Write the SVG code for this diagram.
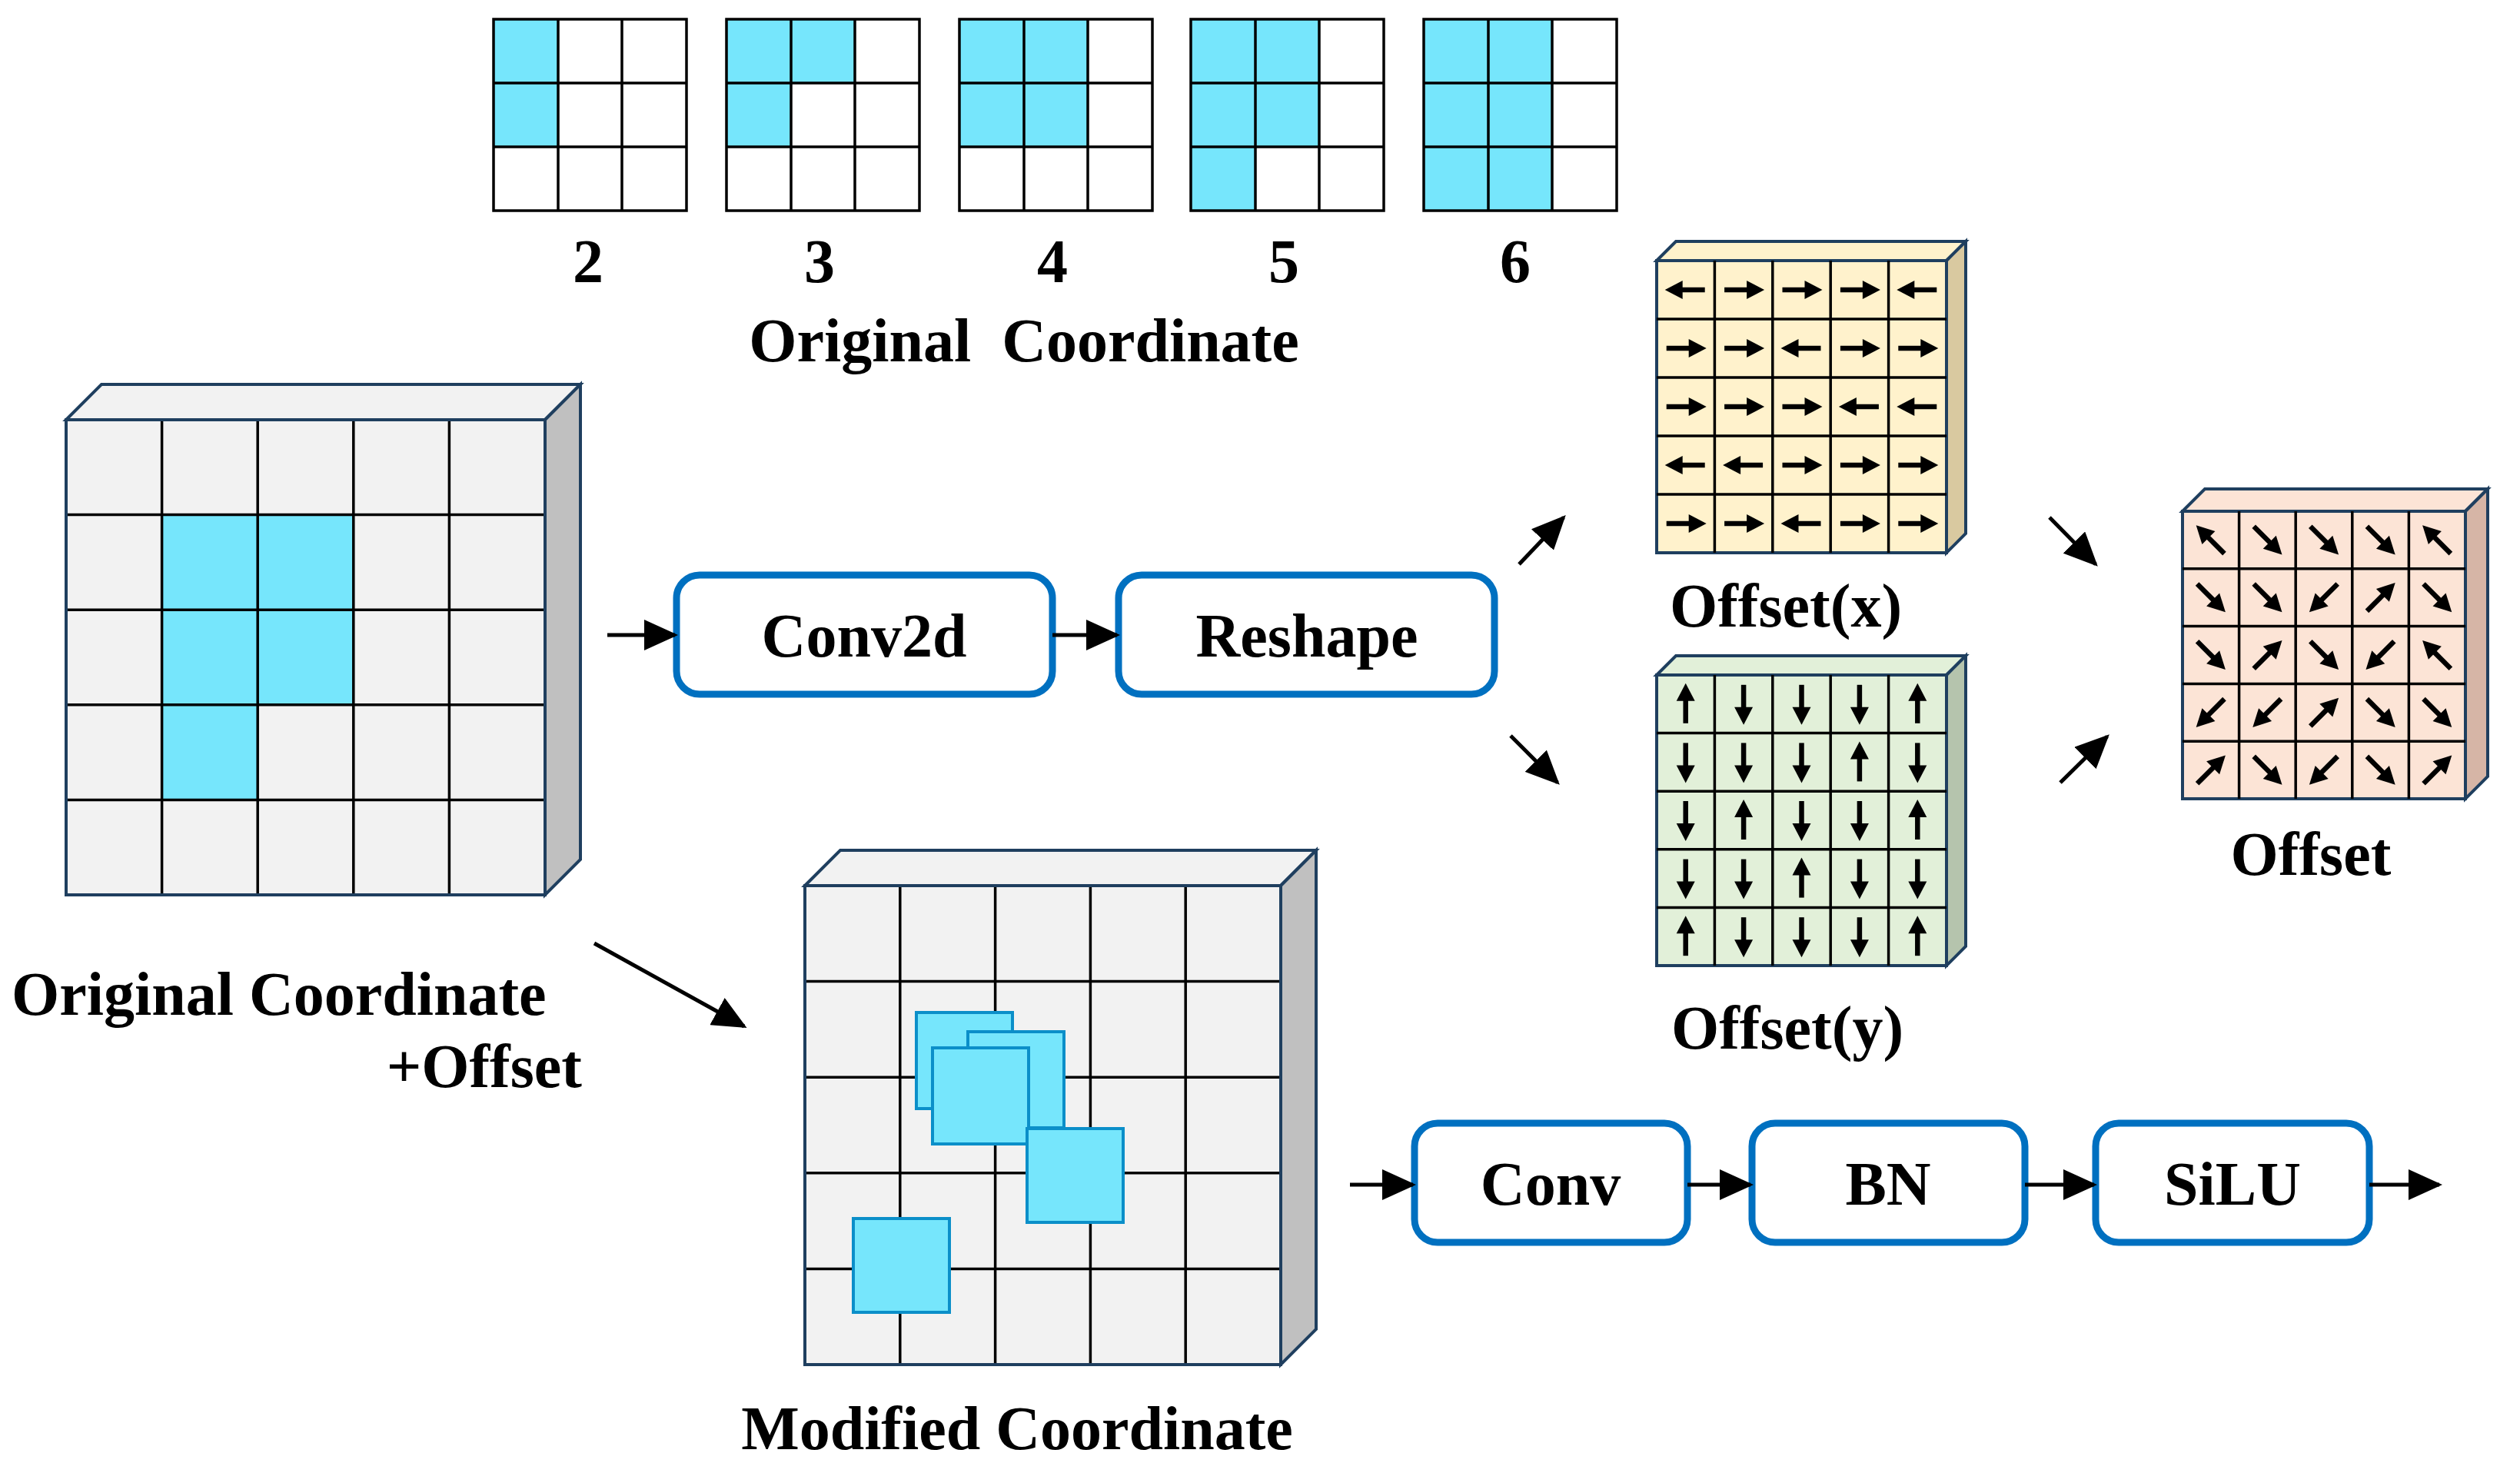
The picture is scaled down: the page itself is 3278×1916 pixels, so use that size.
<svg xmlns="http://www.w3.org/2000/svg" xmlns:xlink="http://www.w3.org/1999/xlink" width="3278" height="1916" viewBox="0 0 3278 1916">
<style>
text{font-family:"Liberation Serif","Times New Roman",serif;font-weight:bold;fill:#000}
.lbl{font-size:80px}
.bx{fill:#fff;stroke:#0070C0;stroke-width:9}
.bt{font-size:80px;text-anchor:middle}
.gl{stroke:#000;stroke-width:3.5}
.sg{fill:none;stroke:#000;stroke-width:3.5}
.bl{fill:#76E6FC}
.edge{stroke:#1F3F5F;stroke-width:4}
.con{stroke:#000;stroke-width:5;fill:none;marker-end:url(#ah)}
.sq{fill:#76E6FC;stroke:#0B8FC9;stroke-width:4}
</style>
<defs>
<marker id="ah" markerUnits="userSpaceOnUse" markerWidth="44" markerHeight="40" refX="40" refY="20" orient="auto"><path d="M0,0 L44,20 L0,40 Z" fill="#000"/></marker>
<g id="ar"><line x1="-25" y1="0" x2="8" y2="0" stroke="#000" stroke-width="6.5"/><path d="M4,-12 L27,0 L4,12 Z" fill="#000"/></g>
</defs>

<g id="small-grids">
<g transform="translate(642,25)">
<rect class="bl" x="0" y="0" width="84" height="166"/>
<rect class="sg" x="0" y="0" width="251" height="249"/>
<path class="gl" d="M84,0V249M167,0V249M0,83H251M0,166H251"/></g>
<g transform="translate(945,25)">
<rect class="bl" x="0" y="0" width="167" height="83"/><rect class="bl" x="0" y="83" width="84" height="83"/>
<rect class="sg" x="0" y="0" width="251" height="249"/>
<path class="gl" d="M84,0V249M167,0V249M0,83H251M0,166H251"/></g>
<g transform="translate(1248,25)">
<rect class="bl" x="0" y="0" width="167" height="166"/>
<rect class="sg" x="0" y="0" width="251" height="249"/>
<path class="gl" d="M84,0V249M167,0V249M0,83H251M0,166H251"/></g>
<g transform="translate(1549,25)">
<rect class="bl" x="0" y="0" width="167" height="166"/><rect class="bl" x="0" y="166" width="84" height="83"/>
<rect class="sg" x="0" y="0" width="251" height="249"/>
<path class="gl" d="M84,0V249M167,0V249M0,83H251M0,166H251"/></g>
<g transform="translate(1852,25)">
<rect class="bl" x="0" y="0" width="167" height="249"/>
<rect class="sg" x="0" y="0" width="251" height="249"/>
<path class="gl" d="M84,0V249M167,0V249M0,83H251M0,166H251"/></g>
<text class="bt" x="765" y="367">2</text><text class="bt" x="1066" y="367">3</text><text class="bt" x="1369" y="367">4</text><text class="bt" x="1670" y="367">5</text><text class="bt" x="1971" y="367">6</text>
<text class="bt" x="1332" y="470" style="white-space:pre">Original  Coordinate</text>
</g>

<g id="original-cube">
<polygon points="86,546 132,500 755,500 709,546" fill="#F2F2F2" class="edge"/>
<polygon points="709,546 755,500 755,1118 709,1164" fill="#C0C0C0" class="edge"/>
<rect x="86" y="546" width="623" height="618" fill="#F2F2F2"/>
<rect class="bl" x="210.6" y="669.6" width="249.2" height="247.2"/><rect class="bl" x="210.6" y="916.8" width="124.6" height="123.6"/>
<path class="gl" d="M210.6,546V1164M335.2,546V1164M459.8,546V1164M584.4,546V1164M86,669.6H709M86,793.2H709M86,916.8H709M86,1040.4H709"/>
<rect x="86" y="546" width="623" height="618" fill="none" class="edge"/>
<text class="lbl" x="15" y="1320">Original Coordinate</text>
<text class="lbl" x="757" y="1414" text-anchor="end">+Offset</text>
</g>

<g id="conv2d"><rect class="bx" x="880" y="748" width="489" height="155" rx="30"/><text class="bt" x="1124" y="854">Conv2d</text></g>
<g id="reshape"><rect class="bx" x="1455" y="748" width="489" height="155" rx="30"/><text class="bt" x="1700" y="854">Reshape</text></g>

<g id="offset-x">
<polygon points="2155,339 2180,314 2557,314 2532,339" fill="#FFF2CC" class="edge"/>
<polygon points="2532,339 2557,314 2557,694 2532,719" fill="#D9C9A0" class="edge"/>
<rect x="2155" y="339" width="377" height="380" fill="#FFF2CC" class="edge"/>
<path class="gl" d="M2230.4,339V719M2305.8,339V719M2381.2,339V719M2456.6,339V719M2155,415H2532M2155,491H2532M2155,567H2532M2155,643H2532"/>
<g>
<use xlink:href="#ar" transform="translate(2192.7,377) rotate(180)"/><use xlink:href="#ar" transform="translate(2268.1,377)"/><use xlink:href="#ar" transform="translate(2343.5,377)"/><use xlink:href="#ar" transform="translate(2418.9,377)"/><use xlink:href="#ar" transform="translate(2494.3,377) rotate(180)"/>
<use xlink:href="#ar" transform="translate(2192.7,453)"/><use xlink:href="#ar" transform="translate(2268.1,453)"/><use xlink:href="#ar" transform="translate(2343.5,453) rotate(180)"/><use xlink:href="#ar" transform="translate(2418.9,453)"/><use xlink:href="#ar" transform="translate(2494.3,453)"/>
<use xlink:href="#ar" transform="translate(2192.7,529)"/><use xlink:href="#ar" transform="translate(2268.1,529)"/><use xlink:href="#ar" transform="translate(2343.5,529)"/><use xlink:href="#ar" transform="translate(2418.9,529) rotate(180)"/><use xlink:href="#ar" transform="translate(2494.3,529) rotate(180)"/>
<use xlink:href="#ar" transform="translate(2192.7,605) rotate(180)"/><use xlink:href="#ar" transform="translate(2268.1,605) rotate(180)"/><use xlink:href="#ar" transform="translate(2343.5,605)"/><use xlink:href="#ar" transform="translate(2418.9,605)"/><use xlink:href="#ar" transform="translate(2494.3,605)"/>
<use xlink:href="#ar" transform="translate(2192.7,681)"/><use xlink:href="#ar" transform="translate(2268.1,681)"/><use xlink:href="#ar" transform="translate(2343.5,681) rotate(180)"/><use xlink:href="#ar" transform="translate(2418.9,681)"/><use xlink:href="#ar" transform="translate(2494.3,681)"/>
</g>
<text class="bt" x="2323" y="815">Offset(x)</text>
</g>

<g id="offset-y">
<polygon points="2155,878 2180,853 2557,853 2532,878" fill="#E2F0D9" class="edge"/>
<polygon points="2532,878 2557,853 2557,1231 2532,1256" fill="#B5C4AD" class="edge"/>
<rect x="2155" y="878" width="377" height="378" fill="#E2F0D9" class="edge"/>
<path class="gl" d="M2230.4,878V1256M2305.8,878V1256M2381.2,878V1256M2456.6,878V1256M2155,953.6H2532M2155,1029.2H2532M2155,1104.8H2532M2155,1180.4H2532"/>
<g>
<use xlink:href="#ar" transform="translate(2192.7,915.8) rotate(-90)"/><use xlink:href="#ar" transform="translate(2268.1,915.8) rotate(90)"/><use xlink:href="#ar" transform="translate(2343.5,915.8) rotate(90)"/><use xlink:href="#ar" transform="translate(2418.9,915.8) rotate(90)"/><use xlink:href="#ar" transform="translate(2494.3,915.8) rotate(-90)"/>
<use xlink:href="#ar" transform="translate(2192.7,991.4) rotate(90)"/><use xlink:href="#ar" transform="translate(2268.1,991.4) rotate(90)"/><use xlink:href="#ar" transform="translate(2343.5,991.4) rotate(90)"/><use xlink:href="#ar" transform="translate(2418.9,991.4) rotate(-90)"/><use xlink:href="#ar" transform="translate(2494.3,991.4) rotate(90)"/>
<use xlink:href="#ar" transform="translate(2192.7,1067) rotate(90)"/><use xlink:href="#ar" transform="translate(2268.1,1067) rotate(-90)"/><use xlink:href="#ar" transform="translate(2343.5,1067) rotate(90)"/><use xlink:href="#ar" transform="translate(2418.9,1067) rotate(90)"/><use xlink:href="#ar" transform="translate(2494.3,1067) rotate(-90)"/>
<use xlink:href="#ar" transform="translate(2192.7,1142.6) rotate(90)"/><use xlink:href="#ar" transform="translate(2268.1,1142.6) rotate(90)"/><use xlink:href="#ar" transform="translate(2343.5,1142.6) rotate(-90)"/><use xlink:href="#ar" transform="translate(2418.9,1142.6) rotate(90)"/><use xlink:href="#ar" transform="translate(2494.3,1142.6) rotate(90)"/>
<use xlink:href="#ar" transform="translate(2192.7,1218.2) rotate(-90)"/><use xlink:href="#ar" transform="translate(2268.1,1218.2) rotate(90)"/><use xlink:href="#ar" transform="translate(2343.5,1218.2) rotate(90)"/><use xlink:href="#ar" transform="translate(2418.9,1218.2) rotate(90)"/><use xlink:href="#ar" transform="translate(2494.3,1218.2) rotate(-90)"/>
</g>
<text class="bt" x="2325" y="1364">Offset(y)</text>
</g>

<g id="offset">
<polygon points="2839,665 2868,636 3236,636 3207,665" fill="#FCE4D6" class="edge"/>
<polygon points="3207,665 3236,636 3236,1010 3207,1039" fill="#D6B5A6" class="edge"/>
<rect x="2839" y="665" width="368" height="374" fill="#FCE4D6" class="edge"/>
<path class="gl" d="M2912.6,665V1039M2986.2,665V1039M3059.8,665V1039M3133.4,665V1039M2839,739.8H3207M2839,814.6H3207M2839,889.4H3207M2839,964.2H3207"/>
<g>
<use xlink:href="#ar" transform="translate(2875.8,702.4) rotate(-135)"/><use xlink:href="#ar" transform="translate(2949.4,702.4) rotate(45)"/><use xlink:href="#ar" transform="translate(3023,702.4) rotate(45)"/><use xlink:href="#ar" transform="translate(3096.6,702.4) rotate(45)"/><use xlink:href="#ar" transform="translate(3170.2,702.4) rotate(-135)"/>
<use xlink:href="#ar" transform="translate(2875.8,777.2) rotate(45)"/><use xlink:href="#ar" transform="translate(2949.4,777.2) rotate(45)"/><use xlink:href="#ar" transform="translate(3023,777.2) rotate(135)"/><use xlink:href="#ar" transform="translate(3096.6,777.2) rotate(-45)"/><use xlink:href="#ar" transform="translate(3170.2,777.2) rotate(45)"/>
<use xlink:href="#ar" transform="translate(2875.8,852) rotate(45)"/><use xlink:href="#ar" transform="translate(2949.4,852) rotate(-45)"/><use xlink:href="#ar" transform="translate(3023,852) rotate(45)"/><use xlink:href="#ar" transform="translate(3096.6,852) rotate(135)"/><use xlink:href="#ar" transform="translate(3170.2,852) rotate(-135)"/>
<use xlink:href="#ar" transform="translate(2875.8,926.8) rotate(135)"/><use xlink:href="#ar" transform="translate(2949.4,926.8) rotate(135)"/><use xlink:href="#ar" transform="translate(3023,926.8) rotate(-45)"/><use xlink:href="#ar" transform="translate(3096.6,926.8) rotate(45)"/><use xlink:href="#ar" transform="translate(3170.2,926.8) rotate(45)"/>
<use xlink:href="#ar" transform="translate(2875.8,1001.6) rotate(-45)"/><use xlink:href="#ar" transform="translate(2949.4,1001.6) rotate(45)"/><use xlink:href="#ar" transform="translate(3023,1001.6) rotate(135)"/><use xlink:href="#ar" transform="translate(3096.6,1001.6) rotate(45)"/><use xlink:href="#ar" transform="translate(3170.2,1001.6) rotate(-45)"/>
</g>
<text class="bt" x="3006" y="1138">Offset</text>
</g>

<g id="modified-cube">
<polygon points="1047,1152 1093,1106 1712,1106 1666,1152" fill="#F2F2F2" class="edge"/>
<polygon points="1666,1152 1712,1106 1712,1729 1666,1775" fill="#C0C0C0" class="edge"/>
<rect x="1047" y="1152" width="619" height="623" fill="#F2F2F2"/>
<path class="gl" d="M1170.8,1152V1775M1294.6,1152V1775M1418.4,1152V1775M1542.2,1152V1775M1047,1276.6H1666M1047,1401.2H1666M1047,1525.8H1666M1047,1650.4H1666"/>
<rect x="1047" y="1152" width="619" height="623" fill="none" class="edge"/>
<rect class="sq" x="1192" y="1317" width="125" height="125"/>
<rect class="sq" x="1259" y="1342" width="125" height="125"/>
<rect class="sq" x="1213" y="1363" width="125" height="125"/>
<rect class="sq" x="1336" y="1468" width="125" height="122"/>
<rect class="sq" x="1110" y="1585" width="125" height="122"/>
<text class="bt" x="1323" y="1885">Modified Coordinate</text>
</g>

<g id="conv"><rect class="bx" x="1840" y="1461" width="355" height="155" rx="30"/><text class="bt" x="2017" y="1567">Conv</text></g>
<g id="bn"><rect class="bx" x="2279" y="1461" width="355" height="155" rx="30"/><text class="bt" x="2456" y="1567">BN</text></g>
<g id="silu"><rect class="bx" x="2726" y="1461" width="356" height="155" rx="30"/><text class="bt" x="2904" y="1567">SiLU</text></g>

<g id="connectors">
<line class="con" x1="790" y1="826" x2="878" y2="826"/>
<line class="con" x1="1369" y1="826" x2="1453" y2="826"/>
<line class="con" x1="1976" y1="734" x2="2034" y2="673"/>
<line class="con" x1="1965" y1="957" x2="2026" y2="1018"/>
<line class="con" x1="2666" y1="673" x2="2726" y2="734"/>
<line class="con" x1="2680" y1="1018" x2="2741" y2="958"/>
<line class="con" x1="773" y1="1227" x2="968" y2="1335"/>
<line class="con" x1="1756" y1="1541" x2="1838" y2="1541"/>
<line class="con" x1="2195" y1="1541" x2="2277" y2="1541"/>
<line class="con" x1="2634" y1="1541" x2="2724" y2="1541"/>
<line class="con" x1="3082" y1="1541" x2="3173" y2="1541"/>
</g>
</svg>
